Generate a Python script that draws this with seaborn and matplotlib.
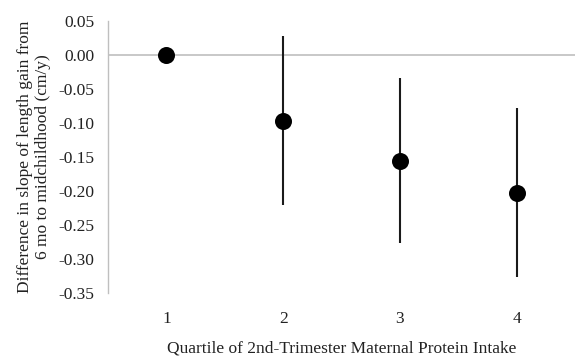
import matplotlib.pyplot as plt
import seaborn as sns
import pandas as pd

quartiles = [1, 2, 3, 4]
estimate = [0.0, -0.097, -0.156, -0.203]
lower = [0.0, -0.221, -0.277, -0.326]
upper = [0.0, 0.027, -0.034, -0.079]
yticks = [0.05, 0.00, -0.05, -0.10, -0.15, -0.20, -0.25, -0.30, -0.35]

df = pd.DataFrame({'Quartile': quartiles, 'Estimate': estimate, 'Lower': lower, 'Upper': upper})

sns.set_style('white')
plt.rcParams['font.family'] = ['Liberation Serif', 'DejaVu Serif']

fig = plt.figure(figsize=(5.75, 3.56), dpi=100)
ax = fig.add_axes([0.188, 0.177, 0.812, 0.765])

ax.axhline(0, color='#bfbfbf', lw=1.2, zorder=1)
ax.vlines(df['Quartile'], df['Lower'], df['Upper'], color='#1a1a1a', lw=1.5, zorder=2)
sns.scatterplot(data=df, x='Quartile', y='Estimate', ax=ax, color='black', s=150,
                edgecolor='black', linewidth=0, zorder=3, legend=False)

ax.set_xlim(0.5, 4.5)
ax.set_ylim(-0.35, 0.05)
ax.set_xticks(quartiles)
ax.set_xticklabels([str(q) for q in quartiles])
ax.set_yticks(yticks)
ax.set_yticklabels(['%.2f' % v for v in yticks])

for s in ['top', 'right', 'bottom']:
    ax.spines[s].set_visible(False)
ax.spines['left'].set_color('#bfbfbf')
ax.spines['left'].set_linewidth(1.0)
ax.tick_params(axis='y', length=4, width=1, color='#bfbfbf', labelsize=12.5, pad=6, labelcolor='#222222')
ax.tick_params(axis='x', length=0, labelsize=12.5, pad=13, labelcolor='#222222')

ax.set_xlabel('Quartile of 2nd-Trimester Maternal Protein Intake', fontsize=12.5, labelpad=10, color='#222222')
ax.set_ylabel('Difference in slope of length gain from\n6 mo to midchildhood (cm/y)', fontsize=12.5,
              labelpad=5, color='#222222')

fig.savefig('out.png', dpi=100)
